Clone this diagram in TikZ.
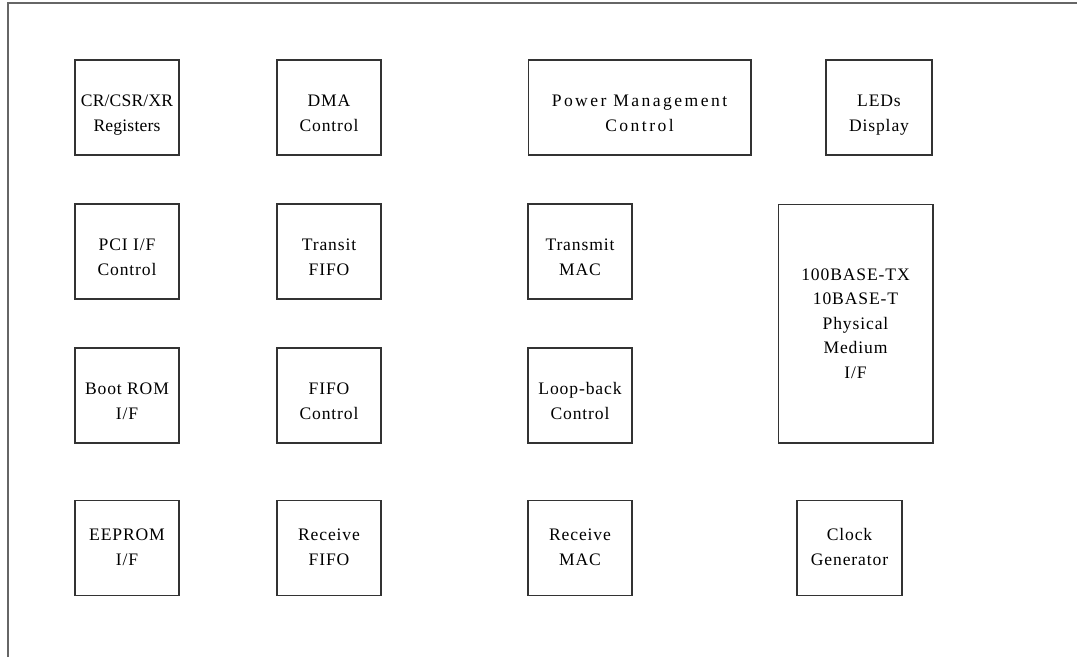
\documentclass[tikz,border=0pt]{standalone}
\usepackage{fontspec}
\setmainfont{Liberation Serif}[LetterSpace=5]
\usepackage{tikz}
\usetikzlibrary{positioning}

\begin{document}
\begin{tikzpicture}[x=0.02cm, y=-0.02cm,
    every node/.style={font=\fontsize{10}{14}\selectfont},
    box/.style={draw=black!80, line width=0.6pt, align=center,
                minimum width=2.08cm, minimum height=1.9cm, inner sep=0pt},
    block/.style={box, text height=27pt, text depth=0pt},
    lowrow/.style={box, text height=20pt, text depth=0pt},
    wideblock/.style={block, minimum width=4.46cm,
                      font=\fontsize{10}{14}\selectfont\addfontfeatures{LetterSpace=14}},
    tallblock/.style={box, minimum width=3.1cm, minimum height=4.78cm},
    frame/.style={draw=black!60, line width=0.6pt}]

  \useasboundingbox (0,0) rectangle (1077,657);

  % Outer frame (left and top edges only)
  \coordinate (fbl) at (8,657);
  \coordinate (ftl) at (8,3);
  \coordinate (ftr) at (1077,3);
  \draw[frame] (fbl) -- (ftl) -- (ftr);

  % Row 1
  \node[block, font=\fontsize{10}{14}\selectfont\addfontfeatures{LetterSpace=1}]
                   (regs)  at (127,107.5)   {CR/CSR/XR\\Registers};
  \node[block]     (dma)   at (329,107.5)   {DMA\\Control};
  \node[wideblock] (pwr)   at (639.5,107.5) {Power Management\\Control};
  \node[block, minimum width=2.12cm] (leds) at (879,107.5) {LEDs\\Display};

  % Row 2
  \node[block] (pci)   at (127,251.5) {PCI I/F\\Control};
  \node[block] (txff)  at (329,251.5) {Transit\\FIFO};
  \node[block] (txmac) at (580,251.5) {Transmit\\MAC};

  % Physical layer block spans rows 2 and 3
  \node[tallblock] (phy) at (855.5,323.5)
    {100BASE-TX\\10BASE-T\\Physical\\Medium\\I/F};

  % Row 3
  \node[block] (boot) at (127,395.5) {Boot ROM\\I/F};
  \node[block] (ffct) at (329,395.5) {FIFO\\Control};
  \node[block] (lpbk) at (580,395.5) {Loop-back\\Control};

  % Row 4
  \node[lowrow] (eep)   at (127,548) {EEPROM\\I/F};
  \node[lowrow] (rxff)  at (329,548) {Receive\\FIFO};
  \node[lowrow] (rxmac) at (580,548) {Receive\\MAC};
  \node[lowrow, minimum width=2.1cm] (clk) at (849.5,548) {Clock\\Generator};
\end{tikzpicture}
\end{document}
